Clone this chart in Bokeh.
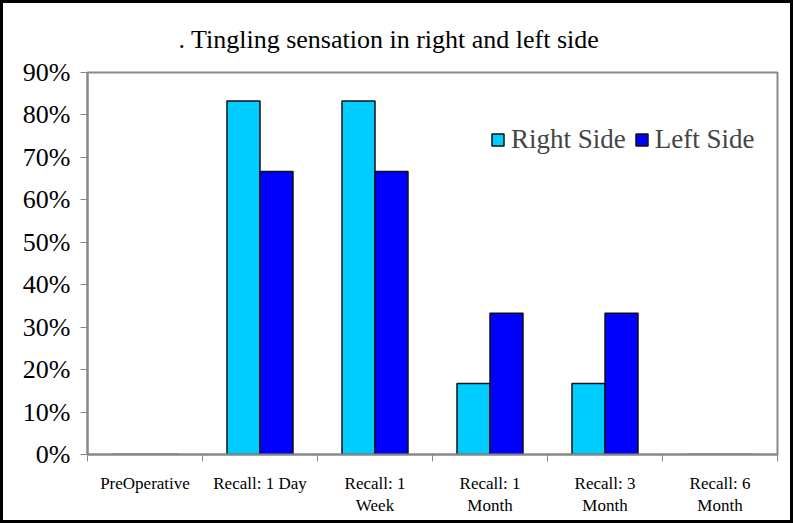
from bokeh.plotting import figure
from bokeh.models import Range1d, FixedTicker, PrintfTickFormatter, Legend, LegendItem, ColumnDataSource, Title
from bokeh.embed import file_html
from bokeh.resources import INLINE

categories = ["PreOperative", "Recall: 1 Day", "Recall: 1\nWeek", "Recall: 1\nMonth", "Recall: 3\nMonth", "Recall: 6\nMonth"]
right_side = [0, 83.3, 83.3, 16.7, 16.7, 0]
left_side = [0, 66.7, 66.7, 33.3, 33.3, 0]
y_ticks = [0, 10, 20, 30, 40, 50, 60, 70, 80, 90]

FONT = "'Liberation Serif', serif"
n = len(categories)
centers = [i + 0.5 for i in range(n)]
bw = 0.287
B = 3

p = figure(width=793, height=523, output_backend="svg", toolbar_location=None,
           x_range=Range1d(0, n), y_range=Range1d(0, 90),
           min_border_left=84, min_border_right=19, min_border_top=67, min_border_bottom=72)
p.styles = {"border": f"{B}px solid black"}
p.title = None
p.add_layout(Title(text=". Tingling sensation in right and left side", align="left", offset=91,
                   text_font=FONT, text_font_size="26px", text_font_style="normal",
                   text_color="black", standoff=38), "above")

src = ColumnDataSource(dict(
    xr=[c - bw / 2 for c in centers], xl=[c + bw / 2 for c in centers],
    r=right_side, l=left_side))
rr = p.vbar(x="xr", top="r", width=bw, source=src, fill_color="#00CCFF", line_color="#111111", line_width=1.5)
rl = p.vbar(x="xl", top="l", width=bw, source=src, fill_color="#0000FF", line_color="#111111", line_width=1.5)

p.grid.visible = False
p.outline_line_color = "#888888"
p.outline_line_width = 2
p.background_fill_color = "white"
p.border_fill_color = "white"

xa = p.xaxis[0]
xa.ticker = FixedTicker(ticks=centers, minor_ticks=list(range(n + 1)))
xa.major_label_overrides = {c: lab for c, lab in zip(centers, categories)}
xa.major_tick_line_color = None
xa.minor_tick_line_color = "#888888"
xa.minor_tick_out = 7
xa.minor_tick_in = 0
xa.axis_line_color = "#888888"
xa.axis_line_width = 2
xa.major_label_text_font = FONT
xa.major_label_text_font_size = "17px"
xa.major_label_text_color = "black"
xa.major_label_standoff = 12

ya = p.yaxis[0]
ya.ticker = FixedTicker(ticks=y_ticks, minor_ticks=[])
ya.formatter = PrintfTickFormatter(format="%d%%")
ya.major_tick_line_color = "#888888"
ya.major_tick_out = 7
ya.major_tick_in = 0
ya.axis_line_color = "#888888"
ya.axis_line_width = 2
ya.major_label_text_font = FONT
ya.major_label_text_font_size = "26px"
ya.major_label_text_color = "black"
ya.major_label_standoff = 10

legend = Legend(items=[LegendItem(label="Right Side", renderers=[rr]),
                       LegendItem(label="Left Side", renderers=[rl])],
                orientation="horizontal", location=(403, 299),
                label_text_font=FONT, label_text_font_size="27px",
                glyph_width=15, glyph_height=15, spacing=8, label_standoff=6,
                border_line_color=None, background_fill_alpha=0, padding=4, margin=0)
p.add_layout(legend, "center")

open("out.html", "w").write(file_html(p, INLINE))
